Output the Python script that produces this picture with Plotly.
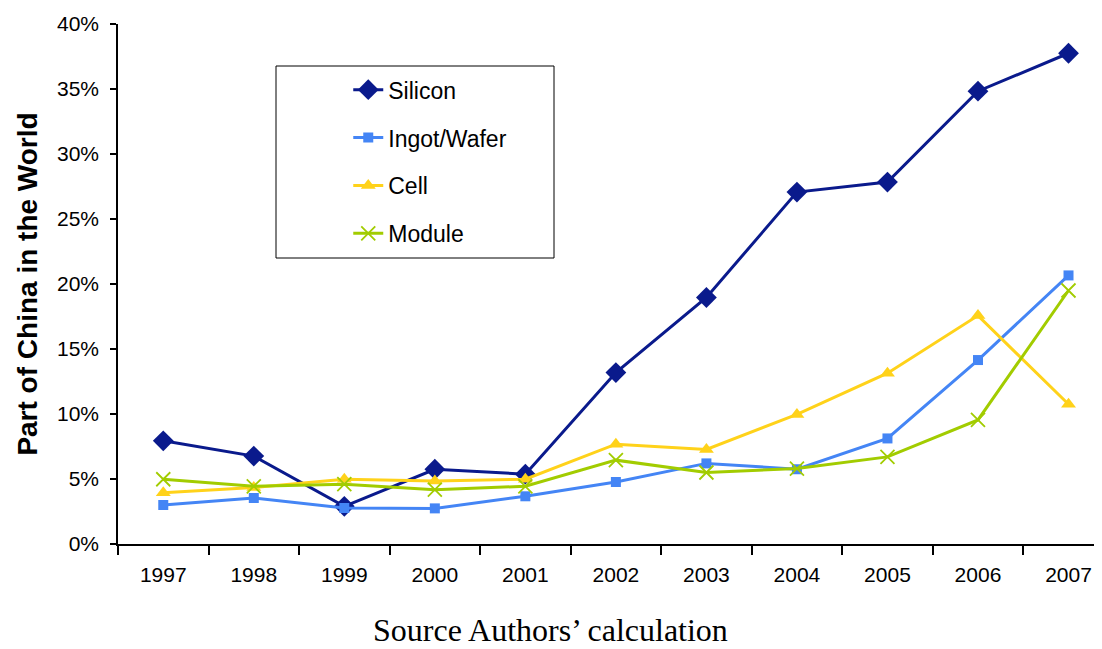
import plotly.graph_objects as go

years = ["1997", "1998", "1999", "2000", "2001", "2002", "2003", "2004", "2005", "2006", "2007"]
silicon = [0.0794, 0.0676, 0.029, 0.0575, 0.0537, 0.1319, 0.1896, 0.2707, 0.2784, 0.3483, 0.3775]
ingot_wafer = [0.030, 0.0354, 0.0277, 0.0274, 0.0367, 0.0477, 0.0620, 0.0575, 0.0812, 0.1415, 0.2066]
cell = [0.0395, 0.0434, 0.0498, 0.0485, 0.0498, 0.0768, 0.0727, 0.0997, 0.1314, 0.1757, 0.1075]
module = [0.0498, 0.0444, 0.046, 0.0418, 0.0444, 0.0645, 0.0550, 0.0580, 0.0670, 0.0954, 0.1950]

series = [
    ("Silicon", silicon, "#0A1A8C", "diamond", 16, 0),
    ("Ingot/Wafer", ingot_wafer, "#4485F5", "square", 10, 0),
    ("Cell", cell, "#FFD21A", "triangle-up", 13, 0),
    ("Module", module, "#A2CC00", "x-thin", 14, 1.8),
]

fig = go.Figure()
for name, vals, color, sym, size, lw in series:
    marker = dict(symbol=sym, size=size, color=color)
    if lw:
        marker["line"] = dict(color=color, width=lw)
    fig.add_trace(go.Scatter(
        x=years, y=vals, name=name, mode="lines+markers",
        line=dict(color=color, width=3), marker=marker,
        legendgroup=name,
    ))

L, T, W, H = 110, 16, 1094, 641
PW, PH = W - L, 520

fig.update_layout(
    width=W, height=H,
    margin=dict(l=L, r=0, t=T, b=H - T - PH),
    paper_bgcolor="white", plot_bgcolor="white",
    font=dict(family="Liberation Sans, Arial", size=21, color="black"),
    showlegend=True,
    legend=dict(
        x=0.234, y=0.915, xanchor="left", yanchor="top",
        bgcolor="rgba(0,0,0,0)", borderwidth=0,
        font=dict(size=23), tracegroupgap=15, traceorder="grouped",
    ),
    shapes=[dict(type="rect", xref="paper", yref="paper",
                 x0=(268 - L) / PW, x1=(546 - L) / PW,
                 y0=(536 - 250) / PH, y1=(536 - 58) / PH,
                 line=dict(color="black", width=1), fillcolor="rgba(0,0,0,0)")],
    annotations=[dict(text="Source Authors\u2019 calculation", xref="paper", yref="paper",
                      x=(542 - L) / PW, y=(536 - 622) / PH, xanchor="center", yanchor="middle",
                      showarrow=False, font=dict(family="Liberation Serif, Times New Roman", size=32))],
)
fig.update_xaxes(
    type="category", range=[-0.5, 10.37],
    showline=True, linecolor="black", linewidth=1.5,
    ticks="outside", ticklen=9, tickcolor="black", tickwidth=1.5,
    tickson="boundaries", showgrid=False, zeroline=False,
    ticklabelstandoff=11,
)
fig.update_yaxes(
    range=[0, 0.40], dtick=0.05, tickformat=".0%",
    showline=True, linecolor="black", linewidth=1.5,
    ticks="outside", ticklen=6, tickcolor="black", tickwidth=1.5,
    showgrid=False, zeroline=False, ticklabelstandoff=7,
    title=dict(text="<b>Part of China in the World</b>", font=dict(size=28), standoff=11),
)
fig.write_html("out.html")
